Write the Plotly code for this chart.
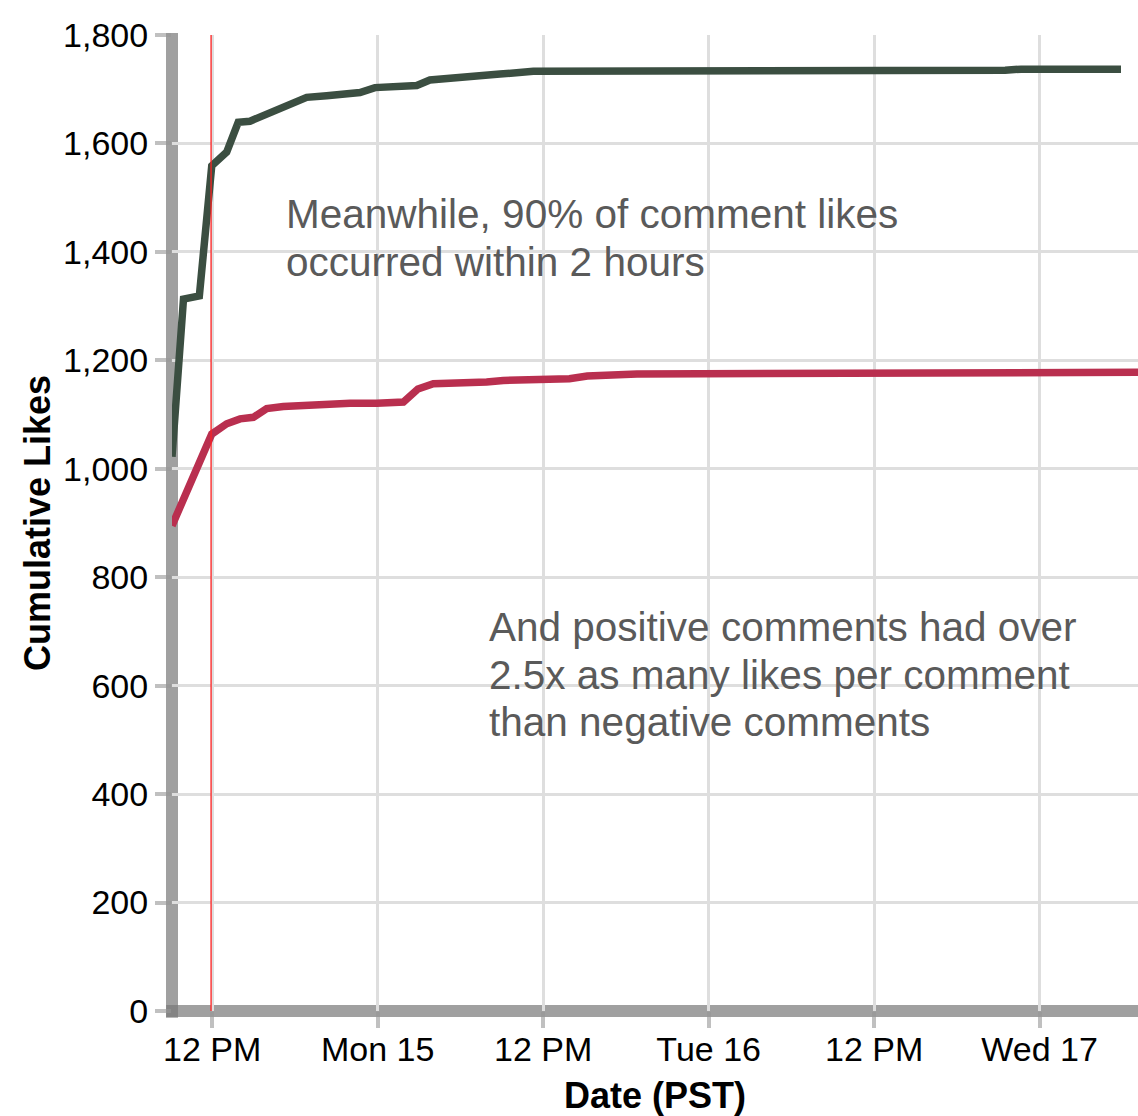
import plotly.graph_objects as go

# ---- data ----
pos_times = ["2014-12-14 09:05", "2014-12-14 09:55", "2014-12-14 11:04", "2014-12-14 11:58",
             "2014-12-14 13:03", "2014-12-14 13:53", "2014-12-14 14:44", "2014-12-14 15:57",
             "2014-12-14 17:09", "2014-12-14 18:08", "2014-12-14 18:51", "2014-12-14 20:18",
             "2014-12-14 22:43", "2014-12-14 23:48", "2014-12-15 02:50", "2014-12-15 03:47",
             "2014-12-15 07:25", "2014-12-15 08:52", "2014-12-15 11:17", "2014-12-15 17:05",
             "2014-12-15 17:48", "2014-12-16 21:30", "2014-12-16 22:39", "2014-12-17 05:54"]
pos_likes = [1022, 1313, 1319, 1559, 1584, 1639, 1641, 1654, 1667, 1679, 1685, 1688,
             1694, 1703, 1707, 1717, 1723, 1728, 1733, 1733, 1735, 1735, 1737, 1737]

neg_times = ["2014-12-14 09:05", "2014-12-14 10:30", "2014-12-14 11:58", "2014-12-14 13:03",
             "2014-12-14 14:01", "2014-12-14 14:59", "2014-12-14 15:57", "2014-12-14 17:09",
             "2014-12-14 19:05", "2014-12-14 21:02", "2014-12-14 22:00", "2014-12-14 23:56",
             "2014-12-15 01:52", "2014-12-15 02:55", "2014-12-15 04:02", "2014-12-15 07:54",
             "2014-12-15 09:06", "2014-12-15 13:54", "2014-12-15 15:12", "2014-12-15 18:48",
             "2014-12-16 18:06", "2014-12-16 18:48", "2014-12-17 07:50"]
neg_likes = [895, 982, 1064, 1083, 1092, 1095, 1111, 1115, 1118, 1118, 1121, 1121,
             1123, 1147, 1157, 1160, 1163, 1166, 1171, 1175, 1175, 1178, 1178]

marker_time = "2014-12-14 11:55"

x_tickvals = ["2014-12-14 12:00", "2014-12-15 00:00", "2014-12-15 12:00",
              "2014-12-16 00:00", "2014-12-16 12:00", "2014-12-17 00:00"]
x_ticktext = ["12 PM", "Mon 15", "12 PM", "Tue 16", "12 PM", "Wed 17"]
y_tickvals = [0, 200, 400, 600, 800, 1000, 1200, 1400, 1600, 1800]

x_range = ["2014-12-14 09:05", "2014-12-17 07:08"]
y_range = [0, 1800]

note_1 = ["Meanwhile, 90% of comment likes", "occurred within 2 hours"]
note_2 = ["And positive comments had over", "2.5x as many likes per comment",
          "than negative comments"]

FONT = "Liberation Sans, Arial, Helvetica, sans-serif"
GREEN = "#3b4e41"
RED = "#b92f4f"
TICK = "rgba(150,150,150,0.6)"
AXIS = "rgba(120,120,120,0.7)"

fig = go.Figure()
fig.add_trace(go.Scatter(x=pos_times, y=pos_likes, mode="lines",
                         line=dict(color=GREEN, width=7.5), name="Positive",
                         showlegend=False, hoverinfo="skip"))
fig.add_trace(go.Scatter(x=neg_times, y=neg_likes, mode="lines",
                         line=dict(color=RED, width=7.5), name="Negative",
                         showlegend=False, hoverinfo="skip"))
fig.add_trace(go.Scatter(x=[marker_time, marker_time], y=y_range, mode="lines",
                         line=dict(color="#ff2020", width=1.3),
                         showlegend=False, hoverinfo="skip"))

# axis domain lines (thick gray, centred on plot edges)
fig.add_shape(type="line", xref="paper", yref="paper", x0=0, x1=0, y0=-0.007, y1=1.002,
              line=dict(color=AXIS, width=12), layer="between")
fig.add_shape(type="line", xref="paper", yref="paper", x0=-0.006, x1=1.0, y0=0, y1=0,
              line=dict(color=AXIS, width=12), layer="between")

W, H = 1138, 1116
PL, PR, PT, PB = 172, 1138, 35, 1011
H1 = [214, 262]
H2 = [627, 675, 722]
def py(p):
    return (PB - p) / (PB - PT)
def px(p):
    return (p - PL) / (PR - PL)

for txt, yy in zip(note_1, H1):
    fig.add_annotation(text=txt, xref="paper", yref="paper", x=px(284), y=py(yy),
                       xanchor="left", yanchor="middle", showarrow=False,
                       font=dict(family=FONT, size=40.5, color="#5a5a5a"))
for txt, yy in zip(note_2, H2):
    fig.add_annotation(text=txt, xref="paper", yref="paper", x=px(487), y=py(yy),
                       xanchor="left", yanchor="middle", showarrow=False,
                       font=dict(family=FONT, size=40.5, color="#5a5a5a"))

fig.update_layout(
    width=W, height=H,
    margin=dict(l=PL, r=W - PR, t=PT, b=H - PB),
    paper_bgcolor="white", plot_bgcolor="white",
    font=dict(family=FONT, color="#000"),
    xaxis=dict(type="date", range=x_range, tickmode="array", tickvals=x_tickvals,
               ticktext=x_ticktext, showgrid=True, gridcolor="#dedede", gridwidth=2.5,
               ticks="outside", ticklen=16, tickwidth=4, tickcolor=TICK,
               ticklabelstandoff=-8,
               tickfont=dict(size=34, color="#000"), showline=False, zeroline=False,
               title=dict(text="<b>Date (PST)</b>", font=dict(size=36, color="#000"),
                          standoff=24)),
    yaxis=dict(range=y_range, tickmode="array", tickvals=y_tickvals, tickformat=",",
               showgrid=True, gridcolor="#dedede", gridwidth=2.5,
               ticks="outside", ticklen=16, tickwidth=4, tickcolor=TICK,
               tickfont=dict(size=34, color="#000"), showline=False, zeroline=False,
               title=dict(text="<b>Cumulative Likes</b>", font=dict(size=36, color="#000"),
                          standoff=1)),
)

fig.write_html("out.html", config={"displayModeBar": False},
               post_script="document.body.style.margin='0';document.body.style.overflow='hidden';")
